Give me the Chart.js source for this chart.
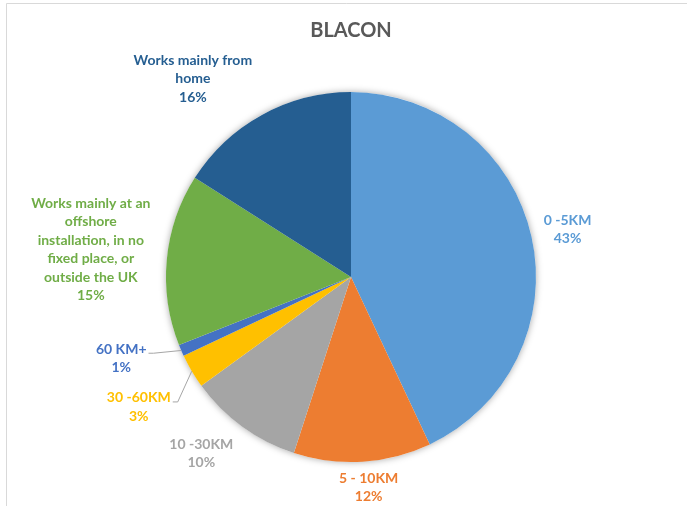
<!DOCTYPE html>
<html><head><meta charset="utf-8">
<script src="https://cdn.jsdelivr.net/npm/chart.js@4"></script>
<style>html,body{margin:0;padding:0;background:#fff;overflow:hidden}</style>
</head><body>
<canvas id="c" width="687" height="506"></canvas>
<script>
const titleText = "BLACON";
const categories = ["0 -5KM", "5 - 10KM", "10 -30KM", "30 -60KM", "60 KM+",
  "Works mainly at an offshore installation, in no fixed place, or outside the UK",
  "Works mainly from home"];
const values = [43, 12, 10, 3, 1, 15, 16];

// presentation (kept apart from the data)
const sliceColors = ["#5B9BD5", "#ED7D31", "#A5A5A5", "#FFC000", "#4472C4", "#70AD47", "#255E91"];
const labelLines = [["0 -5KM"], ["5 - 10KM"], ["10 -30KM"], ["30 -60KM"], ["60 KM+"],
  ["Works mainly at an", "offshore", "installation, in no", "fixed place, or", "outside the UK"],
  ["Works mainly from", "home"]];
const labelOffsets = [[36, -7], [6, 26], [-41, 27], [-53, 36], [-60, 8], [-76, -10], [-69, -36]];
const leaderLines = [false, false, false, true, true, false, false];
const FONT = "Lato, 'Open Sans', sans-serif";

const framePlugin = {
  id: 'frame',
  beforeDraw(chart) {
    const ctx = chart.ctx;
    ctx.save();
    ctx.fillStyle = '#fff';
    ctx.fillRect(0, 0, chart.width, chart.height);
    ctx.strokeStyle = '#D9D9D9';
    ctx.lineWidth = 1;
    ctx.beginPath();
    ctx.moveTo(6.5, chart.height);
    ctx.lineTo(6.5, 3.5);
    ctx.lineTo(chart.width, 3.5);
    ctx.stroke();
    ctx.fillStyle = '#595959';
    ctx.font = "bold 20px " + FONT;
    ctx.textAlign = 'center';
    ctx.textBaseline = 'middle';
    ctx.fillText(titleText, 351, 31);
    ctx.restore();
  },
  beforeDatasetsDraw(chart) {
    const arc = chart.getDatasetMeta(0).data[0];
    if (!arc) return;
    const ctx = chart.ctx;
    ctx.save();
    ctx.shadowColor = 'rgba(0,0,0,0.35)';
    ctx.shadowBlur = 7;
    ctx.shadowOffsetX = 0;
    ctx.shadowOffsetY = 0;
    ctx.fillStyle = '#fff';
    ctx.beginPath();
    ctx.arc(arc.x, arc.y, arc.outerRadius, 0, Math.PI * 2);
    ctx.fill();
    ctx.restore();
  },
  afterDatasetsDraw(chart) {
    const ctx = chart.ctx;
    const meta = chart.getDatasetMeta(0);
    const total = values.reduce((a, b) => a + b, 0);
    ctx.save();
    ctx.font = "bold 14px " + FONT;
    ctx.textAlign = 'center';
    ctx.textBaseline = 'middle';
    meta.data.forEach((arc, i) => {
      const p = arc.getProps(['x', 'y', 'startAngle', 'endAngle', 'outerRadius'], true);
      const mid = (p.startAngle + p.endAngle) / 2;
      const ex = p.x + Math.cos(mid) * p.outerRadius;
      const ey = p.y + Math.sin(mid) * p.outerRadius;
      const cx = ex + labelOffsets[i][0];
      const cy = ey + labelOffsets[i][1];
      const lines = labelLines[i].concat([Math.round(values[i] / total * 100) + "%"]);
      const lh = 18.5;
      const top = cy - (lines.length - 1) * lh / 2;
      ctx.fillStyle = sliceColors[i];
      lines.forEach((l, k) => ctx.fillText(l, cx, top + k * lh));
      if (leaderLines[i]) {
        const w = ctx.measureText(lines[0]).width;
        const sx = cx + w / 2 + 2;
        const sy = top + 4;
        ctx.strokeStyle = '#A6A6A6';
        ctx.lineWidth = 1;
        ctx.beginPath();
        ctx.moveTo(sx, sy);
        ctx.lineTo(sx + 5, sy);
        ctx.lineTo(ex, ey);
        ctx.stroke();
      }
    });
    ctx.restore();
  }
};

new Chart(document.getElementById('c'), {
  type: 'pie',
  data: {
    labels: categories,
    datasets: [{ data: values, backgroundColor: sliceColors, borderWidth: 0 }]
  },
  options: {
    responsive: false,
    animation: false,
    events: [],
    layout: { padding: { top: 92, bottom: 44, left: 166, right: 151 } },
    plugins: { legend: { display: false }, title: { display: false }, tooltip: { enabled: false } }
  },
  plugins: [framePlugin]
});
</script>
</body></html>
